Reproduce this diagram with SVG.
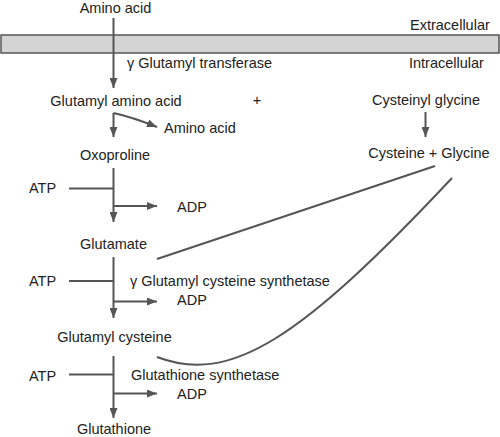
<svg xmlns="http://www.w3.org/2000/svg" width="500" height="437" viewBox="0 0 500 437">
<defs>
<marker id="ah" viewBox="0 0 10 8" refX="10" refY="4" markerWidth="10" markerHeight="8" markerUnits="userSpaceOnUse" orient="auto">
<path d="M0,0 L10,4 L0,8 Z" fill="#555"/>
</marker>
<style>
text{font-family:"Liberation Sans",Arial,sans-serif;font-size:14.5px;fill:#222}
.m{text-anchor:middle}
.ln{fill:none;stroke:#555;stroke-width:2}
</style>
</defs>
<rect x="1" y="35" width="498" height="18" fill="#d4d4d4" stroke="#555" stroke-width="1.5"/>
<g id="labels">
<text x="410" y="30">Extracellular</text>
<text x="409" y="68">Intracellular</text>
<text x="127" y="68">γ Glutamyl transferase</text>
<text x="130" y="286">γ Glutamyl cysteine synthetase</text>
<text x="131" y="380">Glutathione synthetase</text>
<text x="257" y="105" class="m">+</text>
</g>
<g id="n-amino"><text x="115.5" y="13" class="m">Amino acid</text></g>
<g id="n-gaa"><text x="116" y="106" class="m">Glutamyl amino acid</text></g>
<g id="n-aa2"><text x="164" y="133">Amino acid</text></g>
<g id="n-cysgly"><text x="426" y="105" class="m">Cysteinyl glycine</text></g>
<g id="n-cg"><text x="429" y="158" class="m">Cysteine + Glycine</text></g>
<g id="n-oxo"><text x="115" y="159.5" class="m">Oxoproline</text></g>
<g id="n-glu"><text x="113.5" y="248.5" class="m">Glutamate</text></g>
<g id="n-gc"><text x="114.5" y="342" class="m">Glutamyl cysteine</text></g>
<g id="n-gsh"><text x="114" y="434" class="m">Glutathione</text></g>
<g id="n-atp1"><text x="29" y="193">ATP</text></g>
<g id="n-adp1"><text x="177" y="212">ADP</text></g>
<g id="n-atp2"><text x="29" y="286">ATP</text></g>
<g id="n-adp2"><text x="177" y="305">ADP</text></g>
<g id="n-atp3"><text x="29" y="381">ATP</text></g>
<g id="n-adp3"><text x="177" y="398.5">ADP</text></g>
<g id="connectors">
<path class="ln" d="M113.5,18 V88" marker-end="url(#ah)"/>
<path class="ln" d="M113.5,113 Q132,117 157,127" marker-end="url(#ah)"/>
<path class="ln" d="M113.5,113 V137" marker-end="url(#ah)"/>
<path class="ln" d="M425.5,112 V137" marker-end="url(#ah)"/>
<path class="ln" d="M113.5,168 V222" marker-end="url(#ah)"/>
<path class="ln" d="M69,188.5 H113.5"/>
<path class="ln" d="M113.5,206 H157" marker-end="url(#ah)"/>
<path class="ln" d="M113.5,257 V318" marker-end="url(#ah)"/>
<path class="ln" d="M69,281 H113.5"/>
<path class="ln" d="M113.5,301.5 H157" marker-end="url(#ah)"/>
<path class="ln" d="M113.5,356 V418" marker-end="url(#ah)"/>
<path class="ln" d="M69,374.5 H113.5"/>
<path class="ln" d="M113.5,393.5 H157" marker-end="url(#ah)"/>
<path class="ln" d="M157,259 L435,166"/>
<path class="ln" d="M157,357 C230,385 300,340 452,178"/>
</g>
</svg>
